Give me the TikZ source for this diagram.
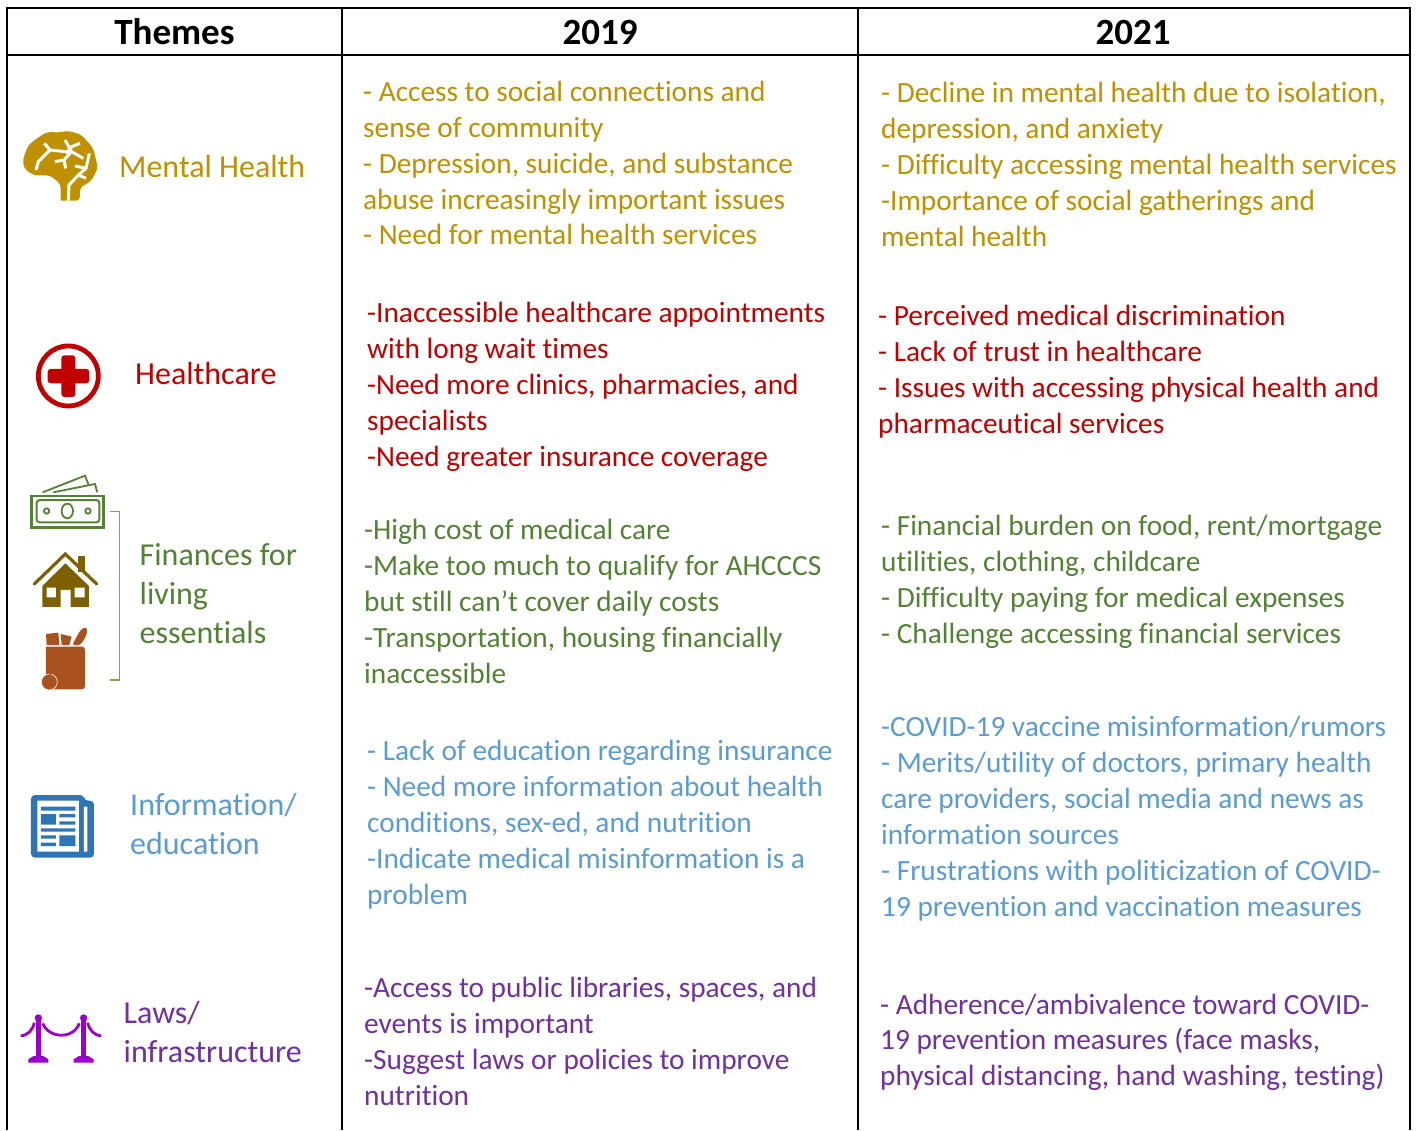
\documentclass[tikz,border=0pt]{standalone}
\usepackage{fontspec}
\setmainfont{Carlito}[Ligatures=NoCommon]
\definecolor{cgold}{HTML}{BF9000}
\definecolor{cred}{HTML}{C00000}
\definecolor{cgreen}{HTML}{548235}
\definecolor{cblue}{HTML}{5B9BD5}
\definecolor{cpurple}{HTML}{7030A0}
\definecolor{ibrown}{HTML}{7F6000}
\definecolor{ibag}{HTML}{A9521E}
\definecolor{inews}{HTML}{2E75B6}
\definecolor{istan}{HTML}{9900CC}
\definecolor{ibrack}{HTML}{70AD47}
\tikzset{
  rule/.style={line width=2pt,black},
  head/.style={font=\fontsize{37}{40}\selectfont\bfseries,anchor=center,inner sep=0pt},
  body/.style={font=\fontsize{29.32}{36}\selectfont,anchor=north west,align=left,inner sep=0pt},
  theme/.style={font=\fontsize{32}{39}\selectfont,anchor=north west,align=left,inner sep=0pt},
  zoomA/.style={shift={(0,100)},x=0.3333pt,y=-0.3333pt},
  zoomB/.style={shift={(0,460)},x=0.3333pt,y=-0.3333pt},
  zoomC/.style={shift={(0,780)},x=0.3333pt,y=-0.3333pt},
}
\begin{document}
\begin{tikzpicture}[x=1pt,y=-1pt]
\useasboundingbox (0,0) rectangle (1416,1130);
\fill[white] (0,0) rectangle (1416,1130);
% grid
\draw[rule] (7,1130) -- (7,8) -- (1410,8) -- (1410,1130);
\draw[rule] (7,55) -- (1410,55);
\draw[rule] (342,8) -- (342,1130);
\draw[rule] (858,8) -- (858,1130);
% headers
\node[head] (hthemes) at (174.5,32) {Themes};
\node[head] (h2019) at (600,32) {2019};
\node[head] (h2021) at (1133,32) {2021};
% themes
\node[theme,text=cgold] (tmental) at (119,150) {\strut Mental Health};
\node[theme,text=cred] (thealth) at (135,357) {\strut Healthcare};
\node[theme,text=cgreen] (tfin) at (139.5,538) {\strut Finances for\\living\\essentials};
\node[theme,text=cblue] (tinfo) at (130,788) {\strut Information/\\education};
\node[theme,text=cpurple] (tlaws) at (123.5,996) {\strut Laws/\\infrastructure};
% 2019
\node[body,text=cgold,font=\fontsize{29.32}{35.8}\selectfont] (a1) at (363,76.4) {\strut - Access to social connections and\\sense of community\\- Depression, suicide, and substance\\abuse increasingly important issues\\- Need for mental health services};
\node[body,text=cred] (a2) at (367,297.4) {\strut -Inaccessible healthcare appointments\\with long wait times\\-Need more clinics, pharmacies, and\\specialists\\-Need greater insurance coverage};
\node[body,text=cgreen] (a3) at (364,514.4) {\strut -High cost of medical care\\-Make too much to qualify for AHCCCS\\but still can’t cover daily costs\\-Transportation, housing financially\\inaccessible};
\node[body,text=cblue,font=\fontsize{29.32}{36}\selectfont] (a4) at (367,735) {\strut - Lack of education regarding insurance\\- Need more information about health\\conditions, sex-ed, and nutrition\\-Indicate medical misinformation is a\\problem};
\node[body,text=cpurple,font=\fontsize{29.32}{36}\selectfont] (a5) at (364,972.2) {\strut -Access to public libraries, spaces, and\\events is important\\-Suggest laws or policies to improve\\nutrition};
% 2021
\node[body,text=cgold] (b1) at (881,77.4) {\strut - Decline in mental health due to isolation,\\depression, and anxiety\\- Difficulty accessing mental health services\\-Importance of social gatherings and\\mental health};
\node[body,text=cred] (b2) at (878,300.4) {\strut - Perceived medical discrimination\\- Lack of trust in healthcare\\- Issues with accessing physical health and\\pharmaceutical services};
\node[body,text=cgreen] (b3) at (881,510.4) {\strut - Financial burden on food, rent/mortgage\\utilities, clothing, childcare\\- Difficulty paying for medical expenses\\- Challenge accessing financial services};
\node[body,text=cblue,font=\fontsize{29.32}{36}\selectfont] (b4) at (881,711.2) {\strut -COVID-19 vaccine misinformation/rumors\\- Merits/utility of doctors, primary health\\care providers, social media and news as\\information sources\\- Frustrations with politicization of COVID-\\19 prevention and vaccination measures};
\node[body,text=cpurple,font=\fontsize{29.32}{35.6}\selectfont] (b5) at (880,989.2) {\strut - Adherence/ambivalence toward COVID-\\19 prevention measures (face masks,\\physical distancing, hand washing, testing)};
% brain
\begin{scope}[zoomA]
\fill[cgold,rounded corners=4pt] (182,302) -- (182,252) -- (150,226) -- (100,226) -- (72,205) -- (68,180) -- (85,135) -- (125,105) -- (145,95) -- (175,98) -- (205,92) -- (245,105) -- (280,145) -- (294,205) -- (272,245) -- (240,262) -- (240,302) [sharp corners] -- cycle;
\draw[white,line width=3pt,line join=round,line cap=butt] (205,302) -- (207,255) -- (235,225) -- (258,205) -- (268,160)
 (258,235) -- (235,225) (258,205) -- (225,198)
 (250,175) -- (215,155) -- (195,120)
 (215,155) -- (192,180) -- (165,185) (192,180) -- (197,205)
 (197,160) -- (215,140) -- (240,130)
 (197,155) -- (150,150) -- (115,185) -- (108,210)
 (150,150) -- (133,130);
% healthcare icon
\draw[cred,line width=4.8pt] (205,828) circle (90);
\fill[cred,rounded corners=3pt] (143,807) rectangle (268,850);
\fill[cred,rounded corners=3pt] (184,766) rectangle (226,891);
\end{scope}
% finance icons
\begin{scope}[zoomB]
\draw[cgreen,line width=2.6pt] (95,108) rectangle (310,203);
\draw[cgreen,line width=2pt,rounded corners=3pt] (110,120) rectangle (298,187);
\draw[cgreen,line width=1.8pt] (140,153) circle (8) (264,153) circle (8) (202,153) ellipse (17 and 22);
\draw[cgreen,line width=1.8pt] (128,97) -- (255,47) -- (265,72) (160,97) -- (285,72) -- (292,97);
% house
\fill[ibrown] (234,288) rectangle (254,335);
\fill[ibrown] (127,378) -- (196,310) -- (267,378) -- (267,441) -- (127,441) -- cycle;
\draw[ibrown,line width=3.2pt,line cap=round,line join=miter] (103,372) -- (196,282) -- (290,372);
\fill[white] (140,383) rectangle (168,412) (224,383) rectangle (254,412) (182,390) rectangle (212,441);
% bag
\fill[ibag,rounded corners=3pt] (216,556) -- (240,512) -- (255,500) -- (263,510) -- (255,535) -- (240,556) -- cycle;
\fill[ibag] (138,522) -- (175,518) -- (178,555) -- (140,555) -- cycle;
\fill[ibag] (182,522) -- (215,530) -- (208,555) -- (185,555) -- cycle;
\fill[ibag,rounded corners=3pt] (138,560) -- (255,560) -- (255,688) -- (138,688) [sharp corners] -- cycle;
\fill[ibag,draw=white,line width=.6pt] (148,666) ellipse (24 and 24);
\draw[ibag,line width=1.4pt] (148,648) -- (155,634);
% bracket
\draw[ibrack,line width=1.2pt] (330,155) -- (358,155) -- (358,660) -- (330,660);
\end{scope}
% news + stanchions
\begin{scope}[zoomC]
\fill[inews,rounded corners=4pt] (93,45) -- (252,45) -- (252,62) -- (282,62) -- (282,233) -- (93,233) -- cycle;
\fill[white] (112,62) rectangle (237,215) (252,80) rectangle (262,215);
\fill[inews] (123,80) rectangle (226,92) (123,102) rectangle (168,134) (178,102) rectangle (226,112) (178,124) rectangle (226,134) (123,145) rectangle (226,155) (123,166) rectangle (168,176) (178,166) rectangle (226,198) (123,188) rectangle (168,198);
\foreach \px in {115,251} {
  \fill[istan] (\px,714) circle (11);
  \fill[istan] (\px-8,714) rectangle (\px+8,830);
  \fill[istan] (\px-14,828) -- (\px+14,828) -- (\px+30,838) -- (\px+30,848) -- (\px-30,848) -- (\px-30,838) -- cycle;
}
\draw[istan,line width=2.8pt] (128,730) .. controls (145,775) and (220,780) .. (238,730);
\draw[istan,line width=2.8pt] (103,728) .. controls (98,750) and (85,765) .. (62,768);
\draw[istan,line width=2.8pt] (263,728) .. controls (268,750) and (281,765) .. (304,768);
\end{scope}
\end{tikzpicture}
\end{document}
